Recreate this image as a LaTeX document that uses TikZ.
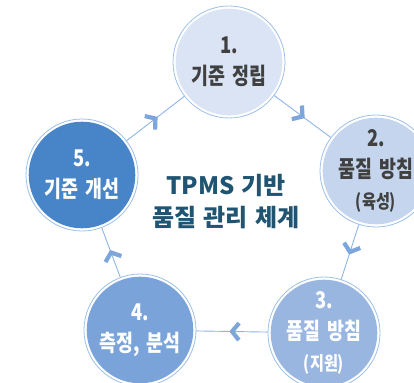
\documentclass[tikz,border=0pt]{standalone}
\usepackage{fontspec}
\newfontfamily\krfont{Noto Sans CJK KR}[FakeStretch=0.8, WordSpace=1.7]
\newfontfamily\krtitle{Noto Sans CJK KR}[WordSpace=1.3]
\usetikzlibrary{decorations.markings}
\definecolor{ringblue}{HTML}{9DC0E8}
\definecolor{lineblue}{HTML}{8EB4E3}
\definecolor{chevblue}{HTML}{7CA6DC}
\definecolor{fillA}{HTML}{DAE4F4}
\definecolor{fillB}{HTML}{C5D5EE}
\definecolor{fillC}{HTML}{98B6E0}
\definecolor{fillD}{HTML}{7AA4D9}
\definecolor{fillE}{HTML}{4785C8}
\definecolor{darktext}{HTML}{404040}
\definecolor{titleblue}{HTML}{1F5472}

\begin{document}
\begin{tikzpicture}[x=1pt,y=-1pt,
    stage/.style={circle, minimum size=112pt, inner sep=0pt, draw=ringblue,
      line width=0.8pt, fill=white, align=center,
      font=\krfont\bfseries\fontsize{23}{31}\selectfont,
      path picture={\fill[#1] (path picture bounding box.center) circle (53.3pt);}},
    link/.style={draw=lineblue, line width=0.9pt, postaction={decorate},
      decoration={markings, mark=at position 0.5 with {
        \draw[chevblue, line width=4.2pt, line join=miter] (-7pt,8.5pt) -- (0,0) -- (-7pt,-8.5pt);}}}]
  \useasboundingbox (0,0) rectangle (414,382);
  \clip (0,0) rectangle (414,382);

  \node[stage=fillA, text=darktext] (S1) at (229,62) {1.\\기준 정립};
  \node[stage=fillB, text=darktext] (S2) at (376,171) {2.\\품질 방침\\{\fontsize{19}{20}\selectfont (육성)}};
  \node[stage=fillC, text=white] (S3) at (324,333) {3.\\품질 방침\\{\fontsize{19}{20}\selectfont (지원)}};
  \node[stage=fillD, text=white] (S4) at (140,330) {4.\\측정, 분석};
  \node[stage=fillE, text=white] (S5) at (82,175) {5.\\기준 개선};

  \node[align=center, text=titleblue, font=\krtitle\bfseries\fontsize{24}{32}\selectfont] (title) at (226,202) {TPMS 기반\\품질 관리 체계};

  \foreach \i [evaluate={\j=int(mod(\i,5)+1)}] in {1,2,3,4,5}{
    \draw[link] (S\i) -- (S\j);
  }
\end{tikzpicture}
\end{document}
